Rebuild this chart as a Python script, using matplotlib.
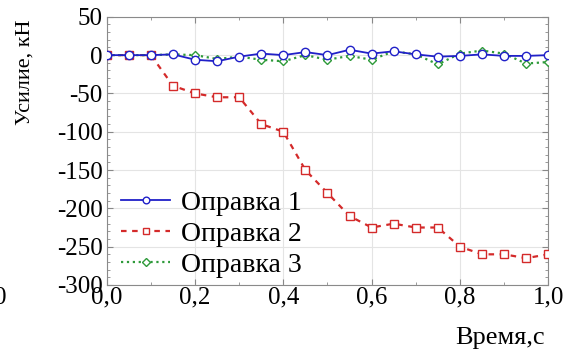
import matplotlib
matplotlib.use("Agg")
import matplotlib.pyplot as plt
from matplotlib.ticker import MultipleLocator, FuncFormatter

plt.rcParams['font.family'] = ['Liberation Serif', 'DejaVu Serif']

t = [0.0, 0.05, 0.1, 0.15, 0.2, 0.25, 0.3, 0.35, 0.4, 0.45, 0.5,
     0.55, 0.6, 0.65, 0.7, 0.75, 0.8, 0.85, 0.9, 0.95, 1.0]
opr1 = [0, 0, 0, 1, -6, -8, -2, 2, 0, 4, 0,
        7, 2, 5, 1, -2, -1, 1, -1, -1, 0]
opr2 = [0, 0, 0, -40, -50, -55, -55, -90, -100, -150, -180,
        -210, -225, -220, -225, -225, -250, -260, -260, -265, -260]
opr3 = [0, 0, 0, 1, 0, -5, -2, -6, -8, 0, -6,
        -1, -6, 5, 1, -12, 2, 6, 2, -11, -9]
labels = ["Оправка 1", "Оправка 2", "Оправка 3"]

fig = plt.figure(figsize=(5.71, 3.58), dpi=100)
ax = fig.add_axes([0.187, 0.204, 0.773, 0.749])

ax.plot(t, opr2, color="#d42a2a", linestyle=(0, (2.5, 2.5)), lw=1.6, marker="s",
        ms=6, mfc="white", mec="#d42a2a", mew=1.0, label=labels[1], zorder=3)
ax.plot(t, opr3, color="#2e9a3a", linestyle=":", lw=1.6, marker="D",
        ms=4.5, mfc="white", mec="#2e9a3a", mew=1.0, label=labels[2], zorder=4)
ax.plot(t, opr1, color="#2020c8", linestyle="-", lw=1.3, marker="o",
        ms=6, mfc="white", mec="#2020c8", mew=1.0, label=labels[0], zorder=5)

ax.set_xlim(0, 1.0)
ax.set_ylim(-300, 50)
ax.xaxis.set_major_locator(MultipleLocator(0.2))
ax.xaxis.set_minor_locator(MultipleLocator(0.1))
ax.yaxis.set_major_locator(MultipleLocator(50))
ax.yaxis.set_minor_locator(MultipleLocator(10))
ax.xaxis.set_major_formatter(FuncFormatter(lambda v, p: f"{v:.1f}".replace(".", ",")))
ax.yaxis.set_major_formatter(FuncFormatter(lambda v, p: f"{v:.0f}"))
ax.grid(True, which="major", color="#e4e4e4", lw=0.8)
ax.tick_params(which="both", direction="in", top=True, right=True,
               labelsize=18, colors="#888888", labelcolor="black")
ax.tick_params(axis="x", pad=1)
ax.tick_params(axis="y", pad=3)
ax.tick_params(which="major", length=4)
ax.tick_params(which="minor", length=2)
for s in ax.spines.values():
    s.set_color("#8a8a8a")

ax.set_ylabel("Усилие, кН", fontsize=16)
ax.yaxis.set_label_coords(-0.163, 0.795)
fig.text(0.955, 0.025, "Время,с", fontsize=19, ha="right", va="bottom")
fig.text(-0.01, 0.168, "0", fontsize=18, ha="left", va="center")

h, l = ax.get_legend_handles_labels()
order = [2, 0, 1]
ax.legend([h[i] for i in order], [l[i] for i in order], loc="lower left",
          bbox_to_anchor=(-0.005, -0.035), frameon=False, fontsize=20,
          handlelength=1.75, handletextpad=0.4, labelspacing=0.2,
          borderaxespad=0.2, markerscale=0.8)

fig.savefig("out.png", dpi=100)
